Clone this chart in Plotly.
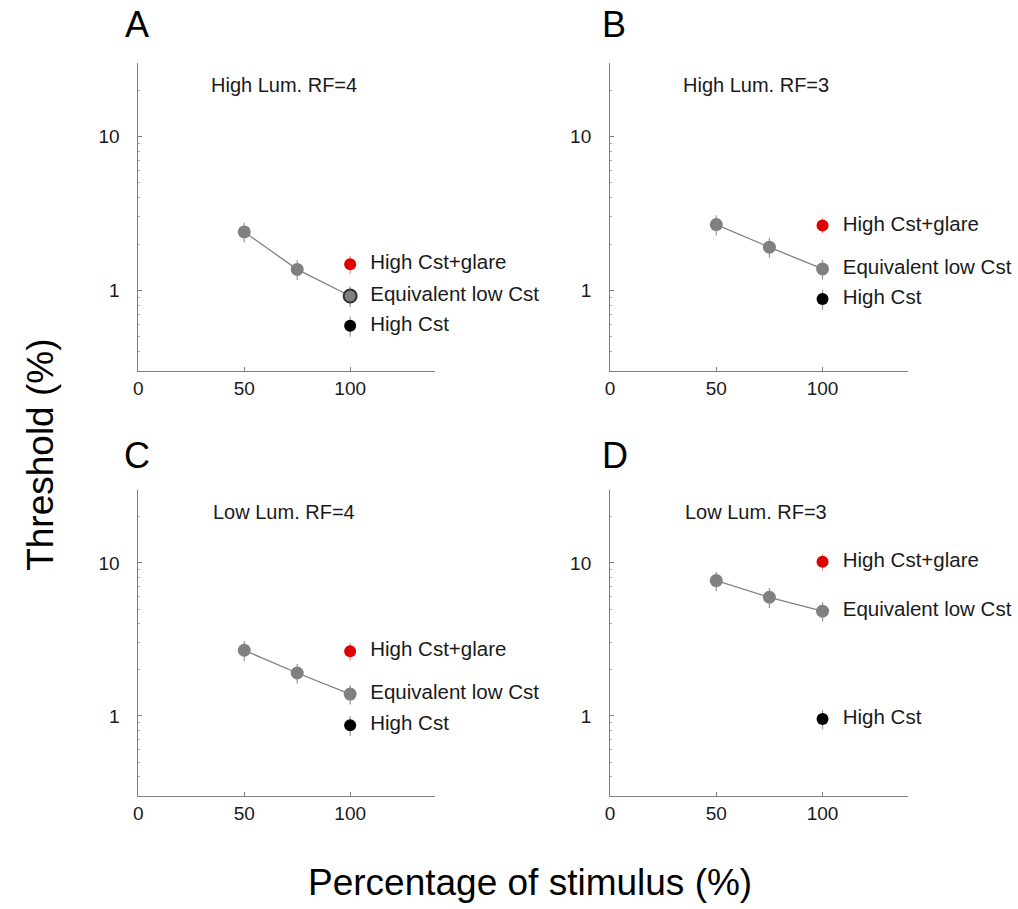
import plotly.graph_objects as go

# ---------------- data ----------------
panel_letters = ["A", "B", "C", "D"]
panel_titles = ["High Lum. RF=4", "High Lum. RF=3", "Low Lum. RF=4", "Low Lum. RF=3"]
stim_pct = [50, 75, 100]          # percentage of stimulus
single_x = [100]

equiv_low = [[2.40, 1.37, 0.92], [2.68, 1.91, 1.38], [2.69, 1.91, 1.39], [7.67, 5.97, 4.84]]
equiv_low_err = [[0.35, 0.20, 0.14], [0.40, 0.28, 0.20], [0.40, 0.28, 0.20], [1.10, 0.90, 0.70]]
high_glare = [1.48, 2.64, 2.65, 10.2]
high_glare_err = [0.20, 0.30, 0.35, 1.30]
high_cst = [0.59, 0.88, 0.87, 0.955]
high_cst_err = [0.09, 0.13, 0.13, 0.14]

label_glare = "High Cst+glare"
label_equiv = "Equivalent low Cst"
label_high = "High Cst"
label_x = 109.5

x_ticks = [0, 50, 100]
y_ticks = [1, 10]
y_minor = [0.3, 0.4, 0.5, 0.6, 0.7, 0.8, 0.9, 2, 3, 4, 5, 6, 7, 8, 9, 20, 30]

# ---------------- layout geometry ----------------
W, H = 1018, 909


def px(x):
    return x / W


def py(y):
    return 1 - y / H


x_domains = [[px(134), px(432)], [px(608), px(907)]]
y_domains = [[py(371), py(63)], [py(796), py(490)]]
letter_pos = [(133, 25), (612, 25), (133, 455), (613, 455)]

FONT = "Liberation Sans, Arial, Helvetica, sans-serif"
GRAY = "#808080"
RED = "#e00000"
TXT = "#1a1a1a"

fig = go.Figure()
annotations = []

for i in range(4):
    r, c = divmod(i, 2)
    n = i + 1
    xa = "x" if n == 1 else f"x{n}"
    ya = "y" if n == 1 else f"y{n}"

    # equivalent low contrast curve
    fig.add_trace(go.Scatter(
        x=stim_pct, y=equiv_low[i], xaxis=xa, yaxis=ya, mode="lines+markers",
        line=dict(color=GRAY, width=1.3),
        marker=dict(size=13, color=GRAY,
                    line=dict(color="#333333" if i == 0 else GRAY, width=[0, 0, 2] if i == 0 else 0)),
        error_y=dict(type="data", array=equiv_low_err[i], color="rgba(128,128,128,0.8)",
                     thickness=1.2, width=0),
        showlegend=False, hoverinfo="x+y"))
    # high contrast + glare
    fig.add_trace(go.Scatter(
        x=single_x, y=[high_glare[i]], xaxis=xa, yaxis=ya, mode="markers",
        marker=dict(size=12, color=RED),
        error_y=dict(type="data", array=[high_glare_err[i]], color="rgba(224,80,80,0.6)",
                     thickness=1.2, width=0),
        showlegend=False))
    # high contrast
    fig.add_trace(go.Scatter(
        x=single_x, y=[high_cst[i]], xaxis=xa, yaxis=ya, mode="markers",
        marker=dict(size=12, color="black"),
        error_y=dict(type="data", array=[high_cst_err[i]], color="rgba(90,90,90,0.6)",
                     thickness=1.2, width=0),
        showlegend=False))
    # inline labels
    fig.add_trace(go.Scatter(
        x=[label_x] * 3, y=[high_glare[i], equiv_low[i][2], high_cst[i]],
        xaxis=xa, yaxis=ya, mode="text", cliponaxis=False,
        text=[label_glare, label_equiv, label_high], textposition="middle right",
        textfont=dict(family=FONT, size=20.5, color=TXT),
        showlegend=False, hoverinfo="skip"))

    axis_common = dict(showline=True, linecolor=GRAY, linewidth=1, ticks="inside",
                       tickcolor=GRAY, ticklen=4, showgrid=False, zeroline=False,
                       tickfont=dict(family=FONT, size=19, color=TXT))
    xkey = "xaxis" if n == 1 else f"xaxis{n}"
    ykey = "yaxis" if n == 1 else f"yaxis{n}"
    fig.layout[xkey] = dict(axis_common, domain=x_domains[c], anchor=ya, range=[0, 140],
                            tickvals=x_ticks, ticktext=[str(v) for v in x_ticks])
    fig.layout[ykey] = dict(axis_common, domain=y_domains[r], anchor=xa, type="log",
                            range=[-0.523, 1.477], tickvals=y_ticks,
                            ticktext=[str(v) for v in y_ticks], ticklabelstandoff=14,
                            minor=dict(tickvals=y_minor, ticks="inside", ticklen=2,
                                       tickcolor="#aaaaaa"))

    annotations.append(dict(text=panel_titles[i], xref=f"{xa} domain", yref=f"{ya} domain",
                            x=0.49, y=0.929, showarrow=False, xanchor="center", yanchor="middle",
                            font=dict(family=FONT, size=20, color=TXT)))
    lx, ly = letter_pos[i]
    annotations.append(dict(text=panel_letters[i], xref="paper", yref="paper",
                            x=px(lx), y=py(ly), showarrow=False, xanchor="center",
                            yanchor="middle", font=dict(family=FONT, size=36, color="black")))

annotations.append(dict(text="Threshold (%)", xref="paper", yref="paper", x=px(35), y=py(455),
                        textangle=-90, showarrow=False, xanchor="center", yanchor="middle",
                        font=dict(family=FONT, size=37, color="black")))
annotations.append(dict(text="Percentage of stimulus (%)", xref="paper", yref="paper",
                        x=px(528), y=py(882), showarrow=False, xanchor="center",
                        yanchor="middle", font=dict(family=FONT, size=37, color="black")))

fig.update_layout(width=W, height=H, margin=dict(l=0, r=0, t=0, b=0),
                  paper_bgcolor="white", plot_bgcolor="white",
                  annotations=annotations, font=dict(family=FONT))

fig.write_html("out.html", config={"displayModeBar": False},
               post_script="document.body.style.margin='0';")
